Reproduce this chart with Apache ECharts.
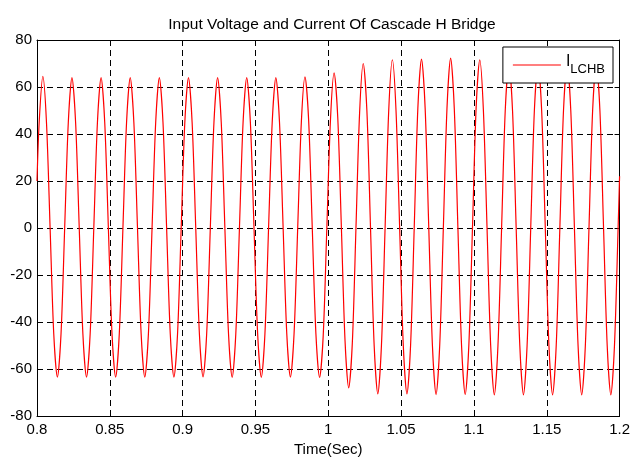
<!DOCTYPE html>
<html>
<head>
<meta charset="utf-8">
<script src="https://cdn.jsdelivr.net/npm/echarts@6/dist/echarts.min.js"></script>
<style>
html,body{margin:0;padding:0;background:#fff;}
#chart{width:633px;height:462px;}
</style>
</head>
<body>
<div id="chart"></div>
<script>
// ---- data ----
var chartTitle = 'Input Voltage and Current Of Cascade H Bridge';
var xAxisName = 'Time(Sec)';
var seriesName = 'I_LCHB';
var xTicks = [0.8, 0.85, 0.9, 0.95, 1, 1.05, 1.1, 1.15, 1.2];
var yTicks = [-80, -60, -40, -20, 0, 20, 40, 60, 80];

// first and last samples (edges of the window)
var edgeTimes = [0.8, 1.2];
var edgeValues = [20, 22];

// samples every 2.5 ms starting at 0.8015 s
var sampleStart = 0.8015;
var sampleStep = 0.0025;
var currentValues = [
  45, 64.5, 45, 0, -45, -63.5, -45, 0,
  45, 64, 45, 0, -45, -63.5, -45, 0,
  45, 64, 45, 0, -45, -63.5, -45, 0,
  45, 64, 45, 0, -45, -63.5, -45, 0,
  45, 64, 45, 0, -45, -63.5, -45, 0,
  45, 64, 45, 0, -45, -63.4, -45, 0,
  45, 64, 45, 0, -45, -63.6, -45, 0,
  45, 64, 45, 0, -45, -63.6, -45, 0,
  45, 64, 45, 0, -45, -63.5, -45, 0,
  45, 64.3, 46, 0, -45, -63.6, -46, 0,
  46, 66, 47, 0, -48, -68, -49, 0,
  49, 70, 50, 0, -50, -70.6, -50, 0,
  50, 71.6, 50, 0, -50, -70.6, -50, 0,
  51, 71.9, 51, 0, -50, -70.9, -50, 0,
  51, 72.3, 51, 0, -50, -70.9, -50, 0,
  51, 71.6, 50, 0, -50, -71, -50, 0,
  50, 70, 50, 0, -50, -71, -50, 0,
  50, 70, 50, 0, -50, -71, -50, 0,
  50, 70, 50, 0, -50, -71, -50, 0,
  50, 70, 50, 0, -50, -71, -50, 0
];

// ---- build series points ----
var points = [[edgeTimes[0], edgeValues[0]]];
for (var i = 0; i < currentValues.length; i++) {
  var t = +(sampleStart + i * sampleStep).toFixed(4);
  points.push([t, currentValues[i]]);
}
points.push([edgeTimes[1], edgeValues[1]]);

var font = 'Liberation Sans, Arial, sans-serif';
var chart = echarts.init(document.getElementById('chart'), null, {renderer: 'canvas'});
var gridLine = {show: true, lineStyle: {color: '#000', width: 1, type: [6, 4]}};
var tickIn = {show: true, inside: true, length: 5, lineStyle: {color: '#000'}};
var axisLn = {show: true, onZero: false, lineStyle: {color: '#000', width: 1}};

chart.setOption({
  backgroundColor: '#fff',
  animation: false,
  title: {
    text: chartTitle,
    left: 327, top: 12, textAlign: 'center',
    textStyle: {fontFamily: font, fontSize: 15.5, fontWeight: 'normal', color: '#000'}
  },
  grid: {left: 37, right: 13, top: 40, bottom: 46, containLabel: false},
  legend: {
    right: 20, top: 47,
    data: [seriesName],
    backgroundColor: '#fff',
    borderColor: '#000', borderWidth: 1, borderRadius: 0,
    padding: [7, 8, 7, 10],
    itemWidth: 48, itemHeight: 1, itemGap: 0,
    icon: 'rect',
    formatter: function () { return '{i|I}{s|LCHB}'; },
    textStyle: {
      fontFamily: font, color: '#000',
      rich: {
        i: {fontFamily: font, fontSize: 16, color: '#000', lineHeight: 22, verticalAlign: 'top', padding: [0, 0, 6, 0]},
        s: {fontFamily: font, fontSize: 13, color: '#000', lineHeight: 22, verticalAlign: 'bottom', padding: [6, 0, 0, 0]}
      }
    }
  },
  xAxis: [{
    type: 'value', min: xTicks[0], max: xTicks[xTicks.length - 1], interval: 0.05,
    name: xAxisName, nameLocation: 'middle', nameGap: 26,
    nameTextStyle: {fontFamily: font, fontSize: 15, color: '#000'},
    axisLine: axisLn, axisTick: tickIn, splitLine: gridLine,
    axisLabel: {fontFamily: font, fontSize: 15, color: '#000', margin: 6}
  }, {
    type: 'value', position: 'top', min: xTicks[0], max: xTicks[xTicks.length - 1], interval: 0.05,
    axisLine: axisLn, axisTick: tickIn, splitLine: {show: false}, axisLabel: {show: false}
  }],
  yAxis: [{
    type: 'value', min: yTicks[0], max: yTicks[yTicks.length - 1], interval: 20,
    axisLine: axisLn, axisTick: tickIn, splitLine: gridLine,
    axisLabel: {fontFamily: font, fontSize: 15, color: '#000', margin: 5}
  }, {
    type: 'value', position: 'right', min: yTicks[0], max: yTicks[yTicks.length - 1], interval: 20,
    axisLine: axisLn, axisTick: tickIn, splitLine: {show: false}, axisLabel: {show: false}
  }],
  series: [{
    name: seriesName,
    type: 'line',
    data: points,
    showSymbol: false,
    smooth: 0.3,
    lineStyle: {color: '#ff0000', width: 1.2},
    itemStyle: {color: '#ff0000'},
    z: 3
  }]
});
</script>
</body>
</html>
